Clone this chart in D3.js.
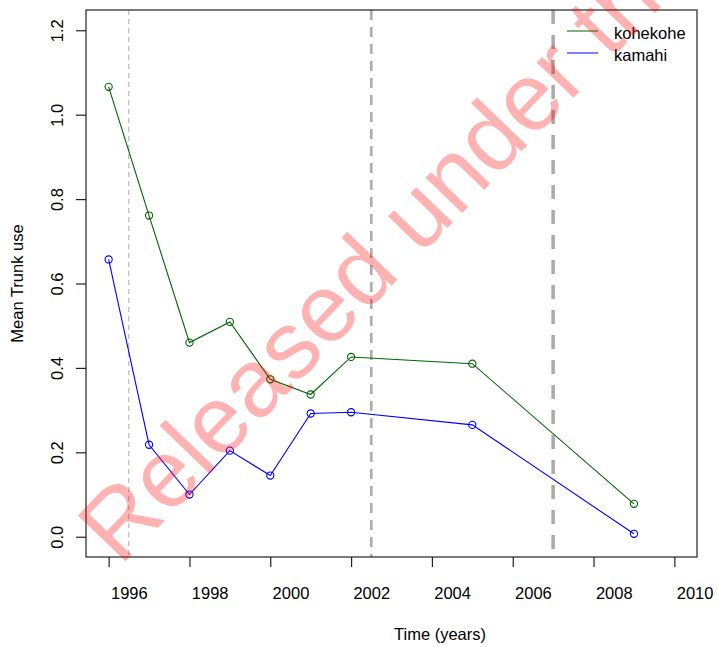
<!DOCTYPE html>
<html><head><meta charset="utf-8">
<script src="https://cdn.jsdelivr.net/npm/d3@7"></script>
<style>
body{margin:0;background:#fff}
svg{display:block}
text{font-family:"Liberation Sans",Arial,Helvetica,sans-serif}
</style>
</head><body>
<svg id="c" width="717" height="647"></svg>
<script>
const years = [1996, 1997, 1998, 1999, 2000, 2001, 2002, 2005, 2009];
const kohekohe = [1.066, 0.761, 0.46, 0.509, 0.373, 0.337, 0.426, 0.41, 0.078];
const kamahi = [0.657, 0.218, 0.100, 0.204, 0.145, 0.292, 0.295, 0.265, 0.007];
const xTicks = [1996, 1998, 2000, 2002, 2004, 2006, 2008, 2010];
const yTicks = [0, 0.2, 0.4, 0.6, 0.8, 1.0, 1.2];
const refLines = [1996.5, 2002.5, 2007.0];
const seriesNames = ["kohekohe", "kamahi"];
const seriesColors = ["#006400", "#0000ff"];
const xTitle = "Time (years)";
const yTitle = "Mean Trunk use";
const watermark = "Released under the";

const svg = d3.select("#c");
const L = 86, R = 697, T = 10, B = 557;
const x = d3.scaleLinear().domain([1995.44, 2010.56]).range([L, R]);
const y = d3.scaleLinear().domain([-0.048, 1.248]).range([B, T]);
const FS = "16.5px";

// reference dashed lines
const refStyles = [
  {w: 1, dash: "5,4"},
  {w: 2.5, dash: "10,7"},
  {w: 3.5, dash: "14,11"}
];
svg.append("g").selectAll("line").data(refLines).join("line")
  .attr("x1", d => x(d)).attr("x2", d => x(d))
  .attr("y1", T).attr("y2", B)
  .attr("stroke", "#aaaaaa")
  .attr("stroke-width", (d, i) => refStyles[i].w)
  .attr("stroke-dasharray", (d, i) => refStyles[i].dash);

// series
const series = [kohekohe, kamahi];
const line = d3.line().x((d, i) => x(years[i])).y(d => y(d));
series.forEach((vals, si) => {
  const g = svg.append("g");
  g.append("path").datum(vals).attr("d", line)
    .attr("fill", "none").attr("stroke", seriesColors[si]).attr("stroke-width", 1.1);
  g.selectAll("circle").data(vals).join("circle")
    .attr("cx", (d, i) => x(years[i])).attr("cy", d => y(d)).attr("r", 3.6)
    .attr("fill", "none").attr("stroke", seriesColors[si]).attr("stroke-width", 1.1);
});

// box
svg.append("rect").attr("x", L).attr("y", T).attr("width", R - L).attr("height", B - T)
  .attr("fill", "none").attr("stroke", "#222").attr("stroke-width", 1.2);

// x axis
const xa = svg.append("g").attr("transform", `translate(0,${B})`)
  .call(d3.axisBottom(x).tickValues(xTicks).tickSize(10).tickFormat(d3.format("d")));
xa.select(".domain").remove();
xa.selectAll("line").attr("stroke", "#222").attr("stroke-width", 1.2);
xa.selectAll("text")
  .attr("x", d => x(d + 0.5) - x(d)).attr("y", 42).attr("dy", 0)
  .attr("fill", "#000").style("font-size", FS)
  .style("font-family", '"Liberation Sans",Arial,sans-serif');

// y axis
const ya = svg.append("g").attr("transform", `translate(${L},0)`)
  .call(d3.axisLeft(y).tickValues(yTicks).tickSize(10).tickFormat(d3.format(".1f")));
ya.select(".domain").remove();
ya.selectAll("line").attr("stroke", "#222").attr("stroke-width", 1.2);
ya.selectAll("text")
  .attr("transform", "rotate(-90)").attr("x", 0).attr("y", -22.7).attr("dy", 0)
  .attr("text-anchor", "middle")
  .attr("fill", "#000").style("font-size", FS)
  .style("font-family", '"Liberation Sans",Arial,sans-serif');

// titles
svg.append("text").attr("x", 440).attr("y", 640).attr("text-anchor", "middle")
  .style("font-size", FS).text(xTitle);
svg.append("text").attr("transform", `translate(23.3,${(T + B) / 2}) rotate(-90)`)
  .attr("text-anchor", "middle").style("font-size", FS).text(yTitle);

// legend
const lg = svg.append("g");
seriesNames.forEach((n, i) => {
  const ly = 31 + i * 22;
  lg.append("line").attr("x1", 567).attr("x2", 598).attr("y1", ly).attr("y2", ly)
    .attr("stroke", seriesColors[i]).attr("stroke-width", 1);
  lg.append("text").attr("x", 614).attr("y", ly + 8.3).style("font-size", FS).text(n);
});

// watermark
svg.append("text").attr("transform", "translate(120,567) rotate(-46)")
  .style("font-size", "96px").attr("fill", "rgb(255,0,0)").attr("fill-opacity", 0.3)
  .text(watermark);
</script>
</body></html>
